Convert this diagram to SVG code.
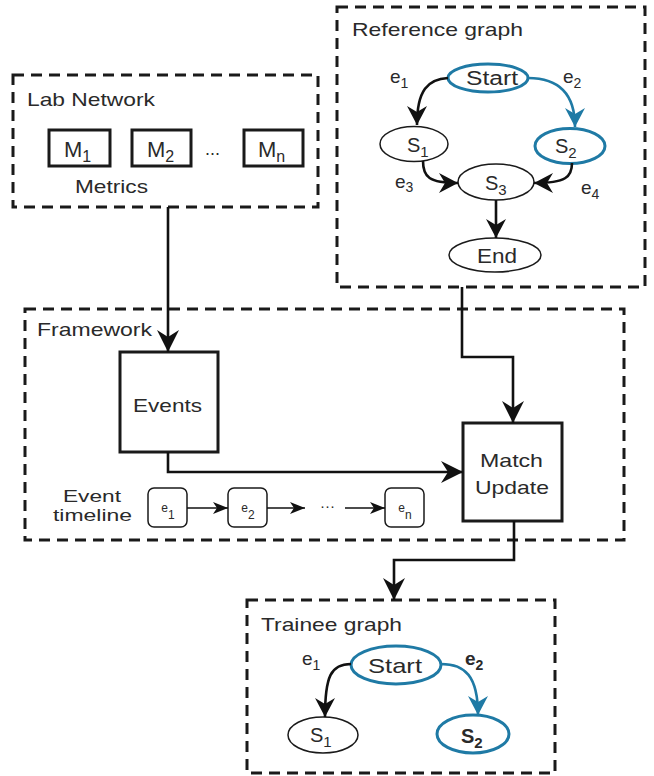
<svg xmlns="http://www.w3.org/2000/svg" width="654" height="776" viewBox="0 0 654 776">
<style>
text{font-family:"Liberation Sans",Arial,sans-serif;fill:#2a2a2a}
.lbl{font-size:19px}
.sm{font-size:17px}
.grp{fill:none;stroke:#1a1a1a;stroke-width:3;stroke-dasharray:11 7}
.box{fill:#fff;stroke:#1a1a1a;stroke-width:3}
.con{fill:none;stroke:#111;stroke-width:2.6}
.blk{fill:#fff;stroke:#1a1a1a;stroke-width:1.5}
.blu{fill:#fff;stroke:#1f7aa5;stroke-width:3}
.edge{fill:none;stroke:#111;stroke-width:2.6}
.bedge{fill:none;stroke:#1f7aa5;stroke-width:2.6}
.tl{fill:#fff;stroke:#1a1a1a;stroke-width:1.5}
.thin{fill:none;stroke:#111;stroke-width:1.6}
</style>
<defs>
<marker id="ah" markerUnits="userSpaceOnUse" markerWidth="22" markerHeight="22" viewBox="0 0 22 22" refX="22" refY="11" orient="auto">
<path d="M22,11 L0,0 L7,11 L0,22 Z" fill="#111"/>
</marker>
<marker id="ahg" markerUnits="userSpaceOnUse" markerWidth="19" markerHeight="20" viewBox="0 0 19 20" refX="19" refY="10" orient="auto">
<path d="M19,10 L0,0 L6,10 L0,20 Z" fill="#111"/>
</marker>
<marker id="ahb" markerUnits="userSpaceOnUse" markerWidth="19" markerHeight="20" viewBox="0 0 19 20" refX="19" refY="10" orient="auto">
<path d="M19,10 L0,0 L6,10 L0,20 Z" fill="#1f7aa5"/>
</marker>
<marker id="ahs" markerUnits="userSpaceOnUse" markerWidth="15" markerHeight="12" viewBox="0 0 15 12" refX="15" refY="6" orient="auto">
<path d="M15,6 L0,0 L4,6 L0,12 Z" fill="#111"/>
</marker>
</defs>

<g id="lab-network">
<rect class="grp" x="13" y="75" width="305" height="132"/>
<text class="lbl" x="27" y="106" textLength="128" lengthAdjust="spacingAndGlyphs">Lab Network</text>
<rect class="box" x="49" y="130" width="61" height="36"/>
<text x="64" y="157" font-size="22">M<tspan font-size="16" dy="5">1</tspan></text>
<rect class="box" x="132" y="130" width="59" height="36"/>
<text x="147" y="157" font-size="22">M<tspan font-size="16" dy="5">2</tspan></text>
<text x="205" y="155" font-size="18">...</text>
<rect class="box" x="244" y="130" width="59" height="36"/>
<text x="258" y="157" font-size="22">M<tspan font-size="16" dy="5">n</tspan></text>
<text class="lbl" x="75" y="193" textLength="73" lengthAdjust="spacingAndGlyphs">Metrics</text>
</g>

<g id="reference-graph">
<rect class="grp" x="337" y="7" width="308" height="280"/>
<text class="lbl" x="352" y="36" textLength="171" lengthAdjust="spacingAndGlyphs">Reference graph</text>
<g id="ref-start">
<ellipse class="blu" cx="488" cy="78" rx="40" ry="14"/>
<text x="466" y="85" font-size="20" textLength="52" lengthAdjust="spacingAndGlyphs">Start</text>
</g>
<g id="ref-s1">
<ellipse class="blk" cx="414" cy="144" rx="34" ry="17.5"/>
<text x="407" y="152" font-size="20">S<tspan font-size="15" dy="5">1</tspan></text>
</g>
<g id="ref-s2">
<ellipse class="blu" cx="570" cy="146" rx="35" ry="17.5"/>
<text x="555" y="153" font-size="20">S<tspan font-size="15" dy="5">2</tspan></text>
</g>
<g id="ref-s3">
<ellipse class="blk" cx="496" cy="182" rx="38" ry="18"/>
<text x="485" y="190" font-size="20">S<tspan font-size="15" dy="5">3</tspan></text>
</g>
<g id="ref-end">
<ellipse class="blk" cx="495" cy="255" rx="46" ry="17"/>
<text x="477" y="263" font-size="20" textLength="40" lengthAdjust="spacingAndGlyphs">End</text>
</g>
</g>

<g id="framework">
<rect class="grp" x="25" y="309" width="599" height="231"/>
<text class="lbl" x="37" y="336" textLength="115" lengthAdjust="spacingAndGlyphs">Framework</text>
<g id="events">
<rect class="box" x="120" y="352" width="98" height="100"/>
<text class="lbl" x="133" y="412" textLength="69" lengthAdjust="spacingAndGlyphs">Events</text>
</g>
<g id="match-update">
<rect class="box" x="463" y="423" width="99" height="98"/>
<text class="lbl" x="480" y="467" textLength="63" lengthAdjust="spacingAndGlyphs">Match</text>
<text class="lbl" x="475" y="494" textLength="74" lengthAdjust="spacingAndGlyphs">Update</text>
</g>
<g id="event-timeline">
<text class="sm" x="63" y="502" textLength="58" lengthAdjust="spacingAndGlyphs">Event</text>
<text class="sm" x="53" y="521" textLength="79" lengthAdjust="spacingAndGlyphs">timeline</text>
<rect class="tl" x="148" y="488" width="39" height="39" rx="6"/>
<text x="168" y="512" font-size="12" text-anchor="middle">e<tspan font-size="12" dy="7">1</tspan></text>
<rect class="tl" x="228" y="488" width="39" height="39" rx="6"/>
<text x="248" y="512" font-size="12" text-anchor="middle">e<tspan font-size="12" dy="7">2</tspan></text>
<text x="320" y="511" font-size="15">···</text>
<rect class="tl" x="385" y="488" width="39" height="39" rx="6"/>
<text x="405" y="512" font-size="12" text-anchor="middle">e<tspan font-size="12" dy="7">n</tspan></text>
</g>
</g>

<g id="trainee-graph">
<rect class="grp" x="247" y="600" width="308" height="173"/>
<text class="lbl" x="261" y="631" textLength="141" lengthAdjust="spacingAndGlyphs">Trainee graph</text>
<g id="tr-start">
<ellipse class="blu" cx="396" cy="665" rx="45" ry="19"/>
<text x="368" y="673" font-size="21" textLength="54" lengthAdjust="spacingAndGlyphs">Start</text>
</g>
<g id="tr-s1">
<ellipse class="blk" cx="323" cy="735" rx="35" ry="18"/>
<text x="310" y="742" font-size="20">S<tspan font-size="15" dy="5">1</tspan></text>
</g>
<g id="tr-s2">
<ellipse class="blu" cx="473" cy="734" rx="36" ry="19"/>
<text x="461" y="743" font-size="20" font-weight="bold">S<tspan font-size="15" dy="5">2</tspan></text>
</g>
</g>

<g id="connectors">
<path class="con" d="M168,207 L168,352" marker-end="url(#ah)"/>
<path class="con" d="M168,452 L168,472 L463,472" marker-end="url(#ah)"/>
<path class="con" d="M462,287 L462,357 L513,357 L513,423" marker-end="url(#ah)"/>
<path class="con" d="M514,521 L514,560 L394,560 L394,600" marker-end="url(#ah)"/>
<path class="thin" d="M187,508 L228,508" marker-end="url(#ahs)"/>
<path class="thin" d="M267,508 L305,508" marker-end="url(#ahs)"/>
<path class="thin" d="M345,508 L385,508" marker-end="url(#ahs)"/>

<path class="edge" d="M448,78 C428,79 417,90 417,125" marker-end="url(#ahg)"/>
<text x="390" y="83" font-size="19">e<tspan font-size="14" dy="5">1</tspan></text>
<path class="bedge" d="M528,78 C555,78 575,90 575,127" marker-end="url(#ahb)"/>
<text x="563" y="83" font-size="19">e<tspan font-size="14" dy="5">2</tspan></text>
<path class="edge" d="M423,161 C423,177 429,183 458,183" marker-end="url(#ahg)"/>
<text x="395" y="188" font-size="19">e<tspan font-size="14" dy="4">3</tspan></text>
<path class="edge" d="M572,163 C572,177 566,183 534,183" marker-end="url(#ahg)"/>
<text x="581" y="194" font-size="19">e<tspan font-size="14" dy="5">4</tspan></text>
<path class="edge" d="M496,200 L496,238" marker-end="url(#ahg)"/>

<path class="edge" d="M351,664 C331,664 325,676 325,717" marker-end="url(#ahg)"/>
<text x="302" y="665" font-size="19">e<tspan font-size="14" dy="5">1</tspan></text>
<path class="bedge" d="M441,664 C465,664 478,676 478,715" marker-end="url(#ahb)"/>
<text x="465" y="665" font-size="19" font-weight="bold">e<tspan font-size="14" dy="5">2</tspan></text>
</g>
</svg>
